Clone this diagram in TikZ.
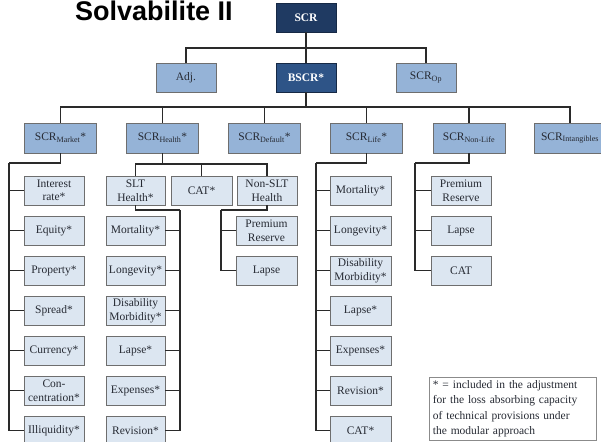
\documentclass[tikz,border=0pt]{standalone}
\usepackage{fontspec}
\setmainfont{Liberation Serif}
\newfontfamily\titlefont{Liberation Sans}
\usepackage{xcolor}
\definecolor{scrnavy}{HTML}{1F3A62}
\definecolor{scrblue}{HTML}{2E5487}
\definecolor{scrlight}{HTML}{95B3D7}
\definecolor{leafpale}{HTML}{DCE6F1}
\definecolor{edgegray}{HTML}{6E6E6E}
\definecolor{wiredark}{HTML}{2A2A2A}
\definecolor{inkdark}{HTML}{262A33}

\begin{document}
\begin{tikzpicture}[
    x=1pt, y=-1pt,
    topbox/.style={rectangle, draw=scrnavy!70!black, line width=0.8pt, text=white,
      font=\fontsize{11.5}{13}\selectfont\bfseries, minimum width=60pt, minimum height=29pt, inner sep=1pt},
    riskbox/.style={rectangle, fill=scrlight, draw=edgegray, line width=0.9pt, text=inkdark,
      font=\fontsize{11.5}{13}\selectfont, minimum height=29pt, inner sep=1pt},
    leaf/.style={rectangle, fill=leafpale, draw=edgegray, line width=0.9pt, text=inkdark,
      font=\fontsize{11.5}{13.5}\selectfont, align=center, minimum width=60pt, minimum height=29pt, inner sep=1pt},
    wire/.style={draw=wiredark, line width=1.3pt},
  ]

  \fill[white] (0,0) rectangle (601,441);
  \useasboundingbox (0,0) rectangle (601,441);

  % ---- slide title
  \node[anchor=base west, inner sep=0pt, text=black,
    font=\titlefont\fontsize{27}{30}\selectfont\bfseries] (title) at (75,21) {Solvabilite II};

  % ---- top of the tree
  \node[topbox, fill=scrnavy] (scr) at (306,17.5) {SCR};
  \node[riskbox, minimum width=60pt] (adj) at (186,77.5) {Adj.};
  \node[topbox, fill=scrblue] (bscr) at (306,77.5) {BSCR*};
  \node[riskbox, minimum width=60pt] (op) at (426,77.5) {SCR\textsubscript{Op}};

  \coordinate (bus1) at (306,48);
  \draw[wire] (scr) -- (bscr);
  \draw[wire] (adj.north) |- (bus1) -| (op.north);

  % ---- risk modules under the BSCR
  \coordinate (bus2) at (306,107);
  \draw[wire] (bscr.south) -- (bus2);
  \foreach \n/\x/\s in {mkt/60.5/{SCR\textsubscript{Market}*}, hlt/162.5/{SCR\textsubscript{Health}*},
      dft/264.5/{SCR\textsubscript{Default}*}, lif/366.5/{SCR\textsubscript{Life}*},
      nlf/469/{SCR\textsubscript{Non-Life}}, itg/570/{SCR\textsubscript{Intangibles}}} {
    \node[riskbox, minimum width=72pt, minimum height=30pt] (\n) at (\x,138) {\s};
    \draw[wire] (bus2) -| (\n.north);
  }

  % ---- market sub-modules, trunk on the left
  \coordinate (mktelbow) at (9,163);
  \draw[wire] (mkt.south) |- (mktelbow);
  \foreach \s [count=\k] in {{Interest\\rate*}, Equity*, Property*, Spread*, Currency*,
      {Con-\\centration*}, Illiquidity*} {
    \node[leaf] (mk\k) at (54,{150.5+40*\k}) {\s};
    \draw[wire] (mktelbow) |- (mk\k.west);
  }

  % ---- health splits three ways
  \coordinate (hltbus) at (162.5,164);
  \draw[wire] (hlt.south) -- (hltbus);
  \node[leaf, minimum width=59pt] (slt) at (135.5,190.5) {SLT\\Health*};
  \node[leaf, minimum width=61pt] (hcat) at (201.5,190.5) {CAT*};
  \node[leaf, minimum width=60pt] (nslt) at (267,190.5) {Non-SLT\\Health};
  \foreach \n in {slt, hcat, nslt}
    \draw[wire] (hltbus) -| (\n.north);

  % ---- SLT health, trunk on the right
  \coordinate (sltelbow) at (180,210);
  \draw[wire] (slt.south) |- (sltelbow);
  \foreach \s [count=\k] in {Mortality*, Longevity*, {Disability\\Morbidity*}, Lapse*,
      Expenses*, Revision*} {
    \node[leaf, minimum width=59pt] (sl\k) at (135.5,{190.5+40*\k}) {\s};
    \draw[wire] (sltelbow) |- (sl\k.east);
  }

  % ---- non-SLT health
  \coordinate (nsltelbow) at (221,210);
  \draw[wire] (nslt.south) |- (nsltelbow);
  \foreach \s [count=\k] in {{Premium\\Reserve}, Lapse} {
    \node[leaf, minimum width=61pt] (ns\k) at (266.5,{190.5+40*\k}) {\s};
    \draw[wire] (nsltelbow) |- (ns\k.west);
  }

  % ---- life sub-modules
  \coordinate (lifelbow) at (316,163);
  \draw[wire] (lif.south) |- (lifelbow);
  \foreach \s [count=\k] in {Mortality*, Longevity*, {Disability\\Morbidity*}, Lapse*,
      Expenses*, Revision*, CAT*} {
    \node[leaf, minimum width=61pt] (lf\k) at (360.5,{150.5+40*\k}) {\s};
    \draw[wire] (lifelbow) |- (lf\k.west);
  }

  % ---- non-life sub-modules
  \coordinate (nlfelbow) at (415,163);
  \draw[wire] (nlf.south) |- (nlfelbow);
  \foreach \s [count=\k] in {{Premium\\Reserve}, Lapse, CAT} {
    \node[leaf] (nl\k) at (461,{150.5+40*\k}) {\s};
    \draw[wire] (nlfelbow) |- (nl\k.west);
  }

  % ---- what the star means
  \node[draw=edgegray!80, line width=0.8pt, fill=white, anchor=north west, text width=160pt,
    align=left, inner xsep=3.5pt, inner ysep=3pt, text=inkdark,
    font=\fontsize{11.5}{15.5}\selectfont] (note) at (429,377)
    {\mbox{* = included in the adjustment}\\\mbox{for the loss absorbing capacity}\\
     \mbox{of technical provisions under}\\\mbox{the modular approach}};

\end{tikzpicture}
\end{document}
